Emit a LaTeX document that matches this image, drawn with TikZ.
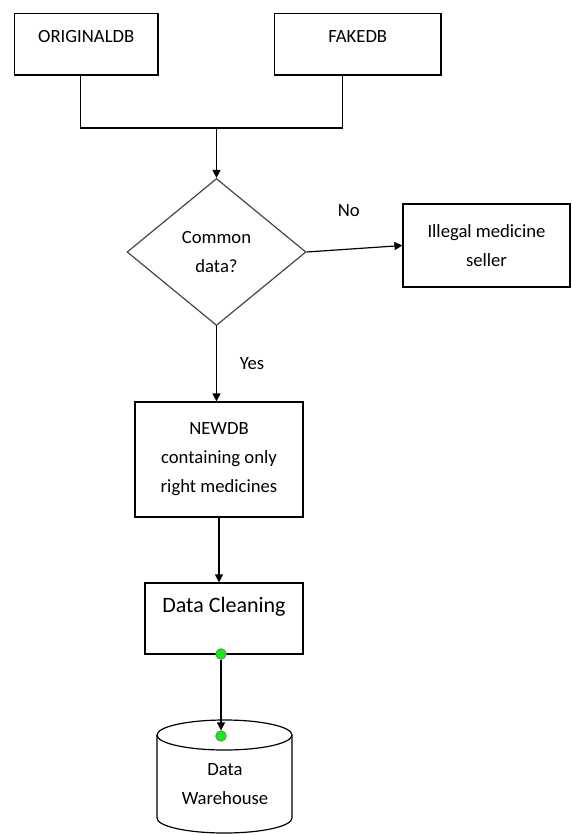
\documentclass[tikz,border=0pt]{standalone}
\usepackage{fontspec}
\setmainfont{Carlito}
\usepackage{xcolor}
\definecolor{dotgreen}{RGB}{20, 235, 20}
\definecolor{edgegray}{RGB}{70, 70, 70}
\usetikzlibrary{shapes.geometric, arrows.meta, positioning}

\begin{document}
\begin{tikzpicture}[x=0.75pt, y=-0.75pt,
    fbox/.style={rectangle, draw=black, line width=0.9pt, inner sep=0pt, align=center, font=\fontsize{14}{21.75}\selectfont},
    qbox/.style={diamond, draw=edgegray, line width=0.9pt, inner sep=0pt, align=center, minimum width=134.25pt, minimum height=110.25pt, font=\fontsize{14}{21.75}\selectfont},
    lbl/.style={inner sep=0pt, font=\fontsize{14}{21.75}\selectfont},
    dot/.style={circle, draw=black!60, fill=dotgreen, inner sep=0pt, minimum size=8pt},
    link/.style={line width=0.9pt, black},
    arr/.style={-{Triangle[length=6pt, width=6pt]}, line width=0.9pt, black}
  ]
    \useasboundingbox (0,0) rectangle (571,835);

    % sources
    \node[fbox, minimum width=107.6pt, text height=21.4pt, text depth=24.75pt] (odb) at (86.25, 44.25) {ORIGINALDB};
    \node[fbox, minimum width=124.9pt, text height=21.4pt, text depth=24.75pt] (fdb) at (357.75, 44.25) {FAKEDB};
    \coordinate (join) at (216.5, 128);

    % check
    \node[qbox] (cd) at (216.5, 252) {Common\\data?};
    \node[fbox, minimum width=125.25pt, minimum height=62.25pt] (ill) at (486.5, 245.5) {Illegal medicine\\seller};
    \node[fbox, minimum width=126pt, minimum height=86.25pt] (ndb) at (219, 459.5) {NEWDB\\containing only\\right medicines};
    \node[fbox, minimum width=118.5pt, text height=21.75pt, text depth=31.5pt, font=\fontsize{16.5}{20}\selectfont] (dc) at (224, 618.5) {Data Cleaning};

    % warehouse
    \draw[link] (157,735) -- (157,818) arc[start angle=180, end angle=0, x radius=67.5, y radius=15] -- (292,735);
    \draw[link] (224.5,735) ellipse [x radius=67.5, y radius=15];
    \node[lbl, align=center] (dw) at (225, 784) {Data\\Warehouse};

    \node[dot] (d1) at (221, 654) {};
    \node[dot] (d2) at (221, 736) {};

    \draw[link] ([xshift=-4.5pt]odb.south) |- (join) -| ([xshift=-11.4pt]fdb.south);
    \draw[arr] (join) -- (cd.north);
    \draw[arr] (cd.east) -- (ill.west) node[lbl, pos=0.44, above=24pt] {No};
    \draw[arr] (cd.south) -- (cd.south |- ndb.north) node[lbl, pos=0.5, right=17pt] {Yes};
    \draw[arr] (ndb.south) -- (ndb.south |- dc.north);
    \draw[arr] (d1) -- (d2);
  \end{tikzpicture}
\end{document}
